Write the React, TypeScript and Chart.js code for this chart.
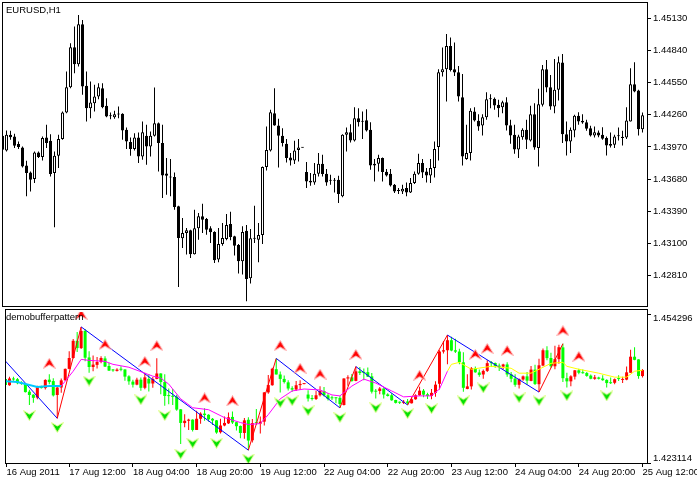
import React, { useEffect, useRef } from 'react';
import { Chart, registerables } from 'chart.js';

Chart.register(...registerables);

// ---------- data (EURUSD H1) ----------
const firstBar = -1; // index of first bar (partially visible)
const opens = [
  1.44071, 1.43939, 1.44080, 1.44065, 1.43996, 1.43966, 1.43804, 1.43741, 1.43681, 1.43921,
  1.43879, 1.44056, 1.44026, 1.43735, 1.43891, 1.44041, 1.44281, 1.44509, 1.44869, 1.44716,
  1.45076, 1.44521, 1.44320, 1.44365, 1.44425, 1.44500, 1.44341, 1.44251, 1.44239, 1.44266,
  1.44269, 1.44125, 1.44014, 1.43951, 1.44056, 1.43885, 1.44071, 1.43975, 1.44071, 1.44185,
  1.44005, 1.43732, 1.43699, 1.43699, 1.43435, 1.43147, 1.43195, 1.43219, 1.43003, 1.43237,
  1.43345, 1.43321, 1.43237, 1.43204, 1.42955, 1.43096, 1.43141, 1.43276, 1.43165, 1.43087,
  1.42940, 1.43216, 1.42787, 1.43147, 1.43135, 1.43177, 1.43789, 1.43939, 1.44275, 1.44164,
  1.44071, 1.43999, 1.43876, 1.43849, 1.43942, 1.43963, 1.43744, 1.43666, 1.43651, 1.43729,
  1.43819, 1.43729, 1.43672, 1.43669, 1.43675, 1.43525, 1.44080, 1.44104, 1.44029, 1.44230,
  1.44203, 1.44212, 1.44125, 1.43819, 1.43819, 1.43870, 1.43747, 1.43729, 1.43630, 1.43579,
  1.43570, 1.43600, 1.43561, 1.43645, 1.43729, 1.43825, 1.43750, 1.43714, 1.43780, 1.43969,
  1.44644, 1.44671, 1.44881, 1.44671, 1.44644, 1.44419, 1.43861, 1.43915, 1.44290, 1.44206,
  1.44164, 1.44239, 1.44407, 1.44404, 1.44350, 1.44329, 1.44374, 1.44167, 1.44080, 1.43948,
  1.44059, 1.44125, 1.44029, 1.44266, 1.43960, 1.44350, 1.44671, 1.44509, 1.44335, 1.44485,
  1.44731, 1.44086, 1.44020, 1.44119, 1.44251, 1.44206, 1.44194, 1.44140, 1.44074, 1.44101,
  1.44080, 1.44050, 1.43996, 1.43990, 1.44074, 1.44050, 1.44056, 1.44200, 1.44536, 1.44479,
  1.44131,
];
const highs = [
  1.44140, 1.44119, 1.44116, 1.44089, 1.44020, 1.43975, 1.43846, 1.43750, 1.43930, 1.43930,
  1.44065, 1.44170, 1.44086, 1.43930, 1.44080, 1.44290, 1.44650, 1.44905, 1.45055, 1.45160,
  1.45115, 1.44650, 1.44560, 1.44530, 1.44545, 1.44545, 1.44410, 1.44281, 1.44296, 1.44335,
  1.44275, 1.44146, 1.44056, 1.44095, 1.44101, 1.44200, 1.44170, 1.44110, 1.44506, 1.44191,
  1.44170, 1.43870, 1.43861, 1.43741, 1.43441, 1.43330, 1.43240, 1.43225, 1.43405, 1.43375,
  1.43459, 1.43330, 1.43255, 1.43210, 1.43240, 1.43285, 1.43366, 1.43387, 1.43171, 1.43096,
  1.43255, 1.43267, 1.43231, 1.43441, 1.43285, 1.43795, 1.44155, 1.44305, 1.44500, 1.44224,
  1.44140, 1.44041, 1.43915, 1.44026, 1.44041, 1.43966, 1.43834, 1.43735, 1.43825, 1.43915,
  1.43900, 1.43771, 1.43720, 1.43690, 1.43711, 1.44086, 1.44146, 1.44176, 1.44329, 1.44320,
  1.44290, 1.44311, 1.44194, 1.43861, 1.43900, 1.43876, 1.43771, 1.43771, 1.43636, 1.43600,
  1.43630, 1.43651, 1.43690, 1.43750, 1.43909, 1.43861, 1.43780, 1.43861, 1.44020, 1.44671,
  1.44866, 1.44989, 1.44956, 1.44911, 1.44701, 1.44629, 1.44170, 1.44320, 1.44329, 1.44266,
  1.44266, 1.44464, 1.44446, 1.44416, 1.44395, 1.44386, 1.44419, 1.44215, 1.44170, 1.44080,
  1.44140, 1.44215, 1.44341, 1.44365, 1.44494, 1.44710, 1.44755, 1.44620, 1.44764, 1.44785,
  1.44809, 1.44200, 1.44146, 1.44260, 1.44284, 1.44266, 1.44215, 1.44161, 1.44155, 1.44119,
  1.44149, 1.44065, 1.44101, 1.44080, 1.44146, 1.44116, 1.44329, 1.44680, 1.44734, 1.44485,
  1.44281,
];
const lows = [
  1.43939, 1.43930, 1.44035, 1.43960, 1.43951, 1.43786, 1.43525, 1.43570, 1.43645, 1.43870,
  1.43849, 1.43960, 1.43705, 1.43246, 1.43780, 1.44035, 1.44275, 1.44500, 1.44635, 1.44695,
  1.44440, 1.44200, 1.44230, 1.44290, 1.44401, 1.44320, 1.44239, 1.44221, 1.44224, 1.44230,
  1.44035, 1.43951, 1.43891, 1.43939, 1.43825, 1.43855, 1.43810, 1.43885, 1.44065, 1.43750,
  1.43510, 1.43540, 1.43525, 1.43405, 1.42709, 1.43060, 1.43000, 1.42970, 1.43000, 1.43135,
  1.43195, 1.43180, 1.43105, 1.42925, 1.42931, 1.43081, 1.43129, 1.43129, 1.42991, 1.42829,
  1.42820, 1.42580, 1.42739, 1.43105, 1.42931, 1.43096, 1.43759, 1.43930, 1.44161, 1.43786,
  1.43975, 1.43831, 1.43804, 1.43816, 1.43840, 1.43960, 1.43600, 1.43621, 1.43630, 1.43705,
  1.43705, 1.43621, 1.43630, 1.43561, 1.43465, 1.43516, 1.43930, 1.44011, 1.44020, 1.44155,
  1.44041, 1.44110, 1.43765, 1.43660, 1.43750, 1.43660, 1.43705, 1.43615, 1.43555, 1.43546,
  1.43546, 1.43525, 1.43555, 1.43636, 1.43720, 1.43690, 1.43651, 1.43645, 1.43696, 1.43849,
  1.44605, 1.44380, 1.44650, 1.44611, 1.44380, 1.43804, 1.43855, 1.43849, 1.44200, 1.44116,
  1.44074, 1.44215, 1.44320, 1.44305, 1.44239, 1.44275, 1.44119, 1.43999, 1.43909, 1.43870,
  1.44035, 1.43951, 1.44020, 1.43945, 1.43795, 1.44335, 1.44464, 1.44305, 1.44275, 1.44389,
  1.44005, 1.43894, 1.43915, 1.44059, 1.44170, 1.44179, 1.44116, 1.44065, 1.44056, 1.44059,
  1.44035, 1.43894, 1.43966, 1.43960, 1.44029, 1.43984, 1.44041, 1.44200, 1.44464, 1.44074,
  1.44101,
];
const closes = [
  1.43945, 1.44080, 1.44059, 1.43981, 1.43969, 1.43795, 1.43735, 1.43675, 1.43921, 1.43879,
  1.44050, 1.44005, 1.43726, 1.43891, 1.44041, 1.44281, 1.44509, 1.44869, 1.44716, 1.45076,
  1.44515, 1.44320, 1.44371, 1.44425, 1.44509, 1.44329, 1.44245, 1.44248, 1.44266, 1.44263,
  1.44119, 1.44020, 1.43951, 1.44056, 1.43885, 1.44104, 1.43975, 1.44071, 1.44185, 1.44005,
  1.43714, 1.43711, 1.43696, 1.43429, 1.43150, 1.43195, 1.43219, 1.43003, 1.43237, 1.43345,
  1.43315, 1.43225, 1.43201, 1.42949, 1.43096, 1.43150, 1.43267, 1.43159, 1.43081, 1.42940,
  1.43204, 1.42781, 1.43147, 1.43144, 1.43177, 1.43789, 1.43942, 1.44284, 1.44164, 1.44071,
  1.44005, 1.43870, 1.43849, 1.43939, 1.43966, 1.43963, 1.43660, 1.43651, 1.43729, 1.43819,
  1.43726, 1.43651, 1.43666, 1.43666, 1.43546, 1.44080, 1.44104, 1.44029, 1.44230, 1.44194,
  1.44197, 1.44119, 1.43804, 1.43804, 1.43870, 1.43744, 1.43714, 1.43624, 1.43570, 1.43573,
  1.43594, 1.43561, 1.43645, 1.43729, 1.43825, 1.43741, 1.43714, 1.43780, 1.43951, 1.44644,
  1.44671, 1.44881, 1.44665, 1.44641, 1.44425, 1.43885, 1.43915, 1.44296, 1.44209, 1.44155,
  1.44239, 1.44401, 1.44401, 1.44344, 1.44320, 1.44374, 1.44164, 1.44074, 1.43948, 1.44065,
  1.44125, 1.44035, 1.44266, 1.43966, 1.44356, 1.44671, 1.44506, 1.44335, 1.44485, 1.44734,
  1.44086, 1.44020, 1.44125, 1.44251, 1.44200, 1.44191, 1.44134, 1.44074, 1.44104, 1.44074,
  1.44044, 1.43984, 1.43981, 1.44065, 1.44068, 1.44062, 1.44209, 1.44536, 1.44470, 1.44131,
  1.44257,
];

const priceTicks = [1.4281, 1.431, 1.4339, 1.4368, 1.4397, 1.4426, 1.4455, 1.4484, 1.4513];
const mainRange = [1.425369, 1.452679];
const indicatorRange = [1.423114, 1.454296];

const timeTickBars = [-0.75, 15, 31, 47, 63, 79, 95, 111, 127, 143, 159];
const timeTickLabels = [
  '16 Aug 2011', '17 Aug 12:00', '18 Aug 04:00', '18 Aug 20:00', '19 Aug 12:00',
  '22 Aug 04:00', '22 Aug 20:00', '23 Aug 12:00', '24 Aug 04:00', '24 Aug 20:00', '25 Aug 12:00',
];

const zigzagBars = [-8, 12, 18, 60, 67, 83, 87, 100, 110, 133, 139];
const zigzagPrices = [1.45087, 1.43246, 1.4516, 1.4258, 1.445, 1.43465, 1.44329, 1.43525, 1.44989, 1.43795, 1.44809];

const maCyanBars = [-1, 2, 7, 10, 13];
const maCyanValues = [1.44025, 1.44005, 1.43902, 1.43922, 1.43922];
const maMagentaBars = [13, 14, 16, 18, 20, 24, 26, 30, 36, 38, 40, 43, 46, 50, 54, 58, 60, 63, 65, 68, 71, 74, 78, 81, 83, 86, 89, 92, 96, 99, 103, 106, 108, 110];
const maMagentaValues = [1.43922, 1.44025, 1.44232, 1.4448, 1.44459, 1.44438, 1.44376, 1.44315, 1.44129, 1.44087, 1.43963, 1.43654, 1.43468, 1.43427, 1.43261, 1.43158, 1.43117, 1.43137, 1.43323, 1.43654, 1.43819, 1.4386, 1.4384, 1.43736, 1.43716, 1.43922, 1.44067, 1.43984, 1.43819, 1.43695, 1.43716, 1.43716, 1.4386, 1.44232];
const maYellowBars = [110, 111, 113, 116, 121, 126, 128, 131, 133, 136, 139, 140, 143, 148, 152, 155, 157, 159];
const maYellowValues = [1.44232, 1.44376, 1.44418, 1.44273, 1.44335, 1.44294, 1.44191, 1.44191, 1.44273, 1.44397, 1.44418, 1.44335, 1.44273, 1.44191, 1.44108, 1.44108, 1.44232, 1.44253];

const upArrowBars = [18, 10, 24, 34, 37, 49, 56, 68, 73, 78, 87, 103, 117, 120, 125, 139, 143];
const upArrowPrices = [1.4542, 1.44397, 1.44789, 1.44438, 1.44769, 1.43674, 1.43612, 1.44769, 1.44294, 1.4417, 1.44583, 1.44149, 1.44583, 1.44707, 1.44666, 1.45079, 1.44542];
const downArrowBars = [5, 12, 20, 33, 39, 43, 46, 52, 60, 68, 71, 75, 83, 92, 100, 106, 114, 119, 128, 133, 140, 150];
const downArrowPrices = [1.43303, 1.43055, 1.44025, 1.43633, 1.43303, 1.42497, 1.42725, 1.42725, 1.42394, 1.43571, 1.43612, 1.43406, 1.43261, 1.43468, 1.43344, 1.43447, 1.43612, 1.43881, 1.43674, 1.43612, 1.43716, 1.43716];

// ---------- helpers ----------
const FONT = { family: '"Liberation Sans", Arial, sans-serif', size: 9.5 };
const X_MIN = -0.875;
const X_MAX = 160.125;

const barX = opens.map((_, k) => firstBar + k);
const isBull = (k: number) => closes[k] >= opens[k];

function makeArrow(up: boolean): HTMLCanvasElement {
  const c = document.createElement('canvas');
  c.width = 13;
  c.height = 11;
  const g = c.getContext('2d')!;
  g.beginPath();
  if (up) {
    g.moveTo(6.5, 0.5); g.lineTo(12.5, 10.5); g.lineTo(6.5, 7); g.lineTo(0.5, 10.5);
  } else {
    g.moveTo(6.5, 10.5); g.lineTo(12.5, 0.5); g.lineTo(6.5, 4); g.lineTo(0.5, 0.5);
  }
  g.closePath();
  g.fillStyle = up ? '#ff0000' : '#00e000';
  g.fill();
  g.lineWidth = 1;
  g.strokeStyle = up ? '#ffb0b0' : '#e8ff90';
  g.stroke();
  return c;
}

function framePlugin(title: string, top: number, bottom: number) {
  return {
    id: 'frame_' + title,
    afterDraw(chart: any) {
      const { ctx, chartArea: a } = chart;
      ctx.save();
      ctx.strokeStyle = '#000';
      ctx.lineWidth = 1;
      ctx.strokeRect(a.left - 0.5, top + 0.5, a.right - a.left + 1, bottom - top);
      ctx.fillStyle = '#000';
      ctx.font = `${FONT.size}px ${FONT.family}`;
      ctx.textBaseline = 'middle';
      ctx.textAlign = 'left';
      ctx.fillText(title, 6, top + 8);
      ctx.restore();
    },
  };
}

export default function App() {
  const mainRef = useRef<HTMLCanvasElement>(null);
  const indRef = useRef<HTMLCanvasElement>(null);

  useEffect(() => {
    const bodyData = barX.map((x, k) => ({ x, y: [opens[k], closes[k]] }));
    const wickData = barX.map((x, k) => ({ x, y: [lows[k], highs[k]] }));

    const main = new Chart(mainRef.current!, {
      type: 'bar',
      data: {
        datasets: [
          {
            type: 'bar',
            data: bodyData as any,
            backgroundColor: (c: any) => (isBull(c.dataIndex) ? '#ffffff' : '#000000'),
            borderColor: '#000',
            borderWidth: 1,
            borderSkipped: false,
            barThickness: 3,
            maxBarThickness: 3,
            grouped: false,
            inflateAmount: 0,
            minBarLength: 1,
            order: 1,
          } as any,
          {
            type: 'bar',
            data: wickData as any,
            backgroundColor: '#000',
            borderWidth: 0,
            barThickness: 1,
            maxBarThickness: 1,
            grouped: false,
            inflateAmount: 0,
            order: 2,
          } as any,
        ],
      },
      options: {
        animation: false,
        responsive: false,
        events: [],
        layout: { padding: { left: 3, top: 3, right: 0, bottom: 2 } },
        plugins: { legend: { display: false }, tooltip: { enabled: false } },
        scales: {
          x: { type: 'linear', min: X_MIN, max: X_MAX, offset: false, grid: { offset: false }, display: false },
          y: {
            type: 'linear',
            position: 'right',
            min: mainRange[0],
            max: mainRange[1],
            afterBuildTicks: (s: any) => { s.ticks = priceTicks.map((v) => ({ value: v })); },
            afterFit: (s: any) => { s.width = 50; s.paddingTop = 0; s.paddingBottom = 0; },
            ticks: { callback: (v: any) => Number(v).toFixed(5), font: FONT, color: '#000', padding: 2, autoSkip: false },
            grid: { drawOnChartArea: false, drawTicks: true, tickLength: 4, color: '#000' },
            border: { display: false },
          },
        },
      } as any,
      plugins: [framePlugin('EURUSD,H1', 2, 306)],
    });

    const upArrow = makeArrow(true);
    const downArrow = makeArrow(false);
    const clipTop = { left: 0, top: 2, right: 0, bottom: 0 };

    const ind = new Chart(indRef.current!, {
      type: 'bar',
      data: {
        datasets: [
          {
            type: 'scatter',
            data: upArrowBars.map((x, k) => ({ x, y: upArrowPrices[k] })),
            pointStyle: upArrow,
            pointRadius: 5,
            showLine: false,
            clip: clipTop,
            order: 1,
          } as any,
          {
            type: 'scatter',
            data: downArrowBars.map((x, k) => ({ x, y: downArrowPrices[k] })),
            pointStyle: downArrow,
            pointRadius: 5,
            showLine: false,
            clip: clipTop,
            order: 1,
          } as any,
          {
            type: 'line',
            data: maCyanBars.map((x, k) => ({ x, y: maCyanValues[k] })),
            borderColor: '#00c8ff',
            borderWidth: 2,
            pointRadius: 0,
            tension: 0,
            order: 3,
          } as any,
          {
            type: 'line',
            data: maMagentaBars.map((x, k) => ({ x, y: maMagentaValues[k] })),
            borderColor: '#ff00ff',
            borderWidth: 1,
            pointRadius: 0,
            tension: 0,
            order: 3,
          } as any,
          {
            type: 'line',
            data: maYellowBars.map((x, k) => ({ x, y: maYellowValues[k] })),
            borderColor: '#ffff00',
            borderWidth: 1,
            pointRadius: 0,
            tension: 0,
            order: 3,
          } as any,
          {
            type: 'line',
            data: zigzagBars.map((x, k) => ({ x, y: zigzagPrices[k] })),
            borderWidth: 1,
            borderColor: '#0000ff',
            segment: {
              borderColor: (c: any) => (c.p1.parsed.y < c.p0.parsed.y ? '#0000ff' : '#ff0000'),
            },
            pointRadius: 0,
            tension: 0,
            order: 4,
          } as any,
          {
            type: 'bar',
            data: bodyData as any,
            backgroundColor: (c: any) => (isBull(c.dataIndex) ? '#ff0000' : '#00ff00'),
            borderWidth: 0,
            barThickness: 3,
            maxBarThickness: 3,
            grouped: false,
            inflateAmount: 0,
            minBarLength: 1,
            order: 5,
          } as any,
          {
            type: 'bar',
            data: wickData as any,
            backgroundColor: (c: any) => (isBull(c.dataIndex) ? '#ff0000' : '#00ff00'),
            borderWidth: 0,
            barThickness: 1,
            maxBarThickness: 1,
            grouped: false,
            inflateAmount: 0,
            order: 6,
          } as any,
        ],
      },
      options: {
        animation: false,
        responsive: false,
        events: [],
        layout: { padding: { left: 3, top: 4, right: 0, bottom: 0 } },
        plugins: { legend: { display: false }, tooltip: { enabled: false } },
        scales: {
          x: {
            type: 'linear',
            position: 'bottom',
            min: X_MIN,
            max: X_MAX,
            offset: false,
            afterBuildTicks: (s: any) => { s.ticks = timeTickBars.map((v) => ({ value: v })); },
            afterFit: (s: any) => { s.height = 21; s.paddingLeft = 0; s.paddingRight = 0; },
            ticks: {
              callback: (_v: any, i: number) => timeTickLabels[i],
              align: 'start',
              padding: 0,
              maxRotation: 0,
              minRotation: 0,
              autoSkip: false,
              font: FONT,
              color: '#000',
            },
            grid: { offset: false, drawOnChartArea: false, drawTicks: true, tickLength: 4, color: '#000' },
            border: { display: false },
          },
          y: {
            type: 'linear',
            position: 'right',
            min: indicatorRange[0],
            max: indicatorRange[1],
            afterBuildTicks: (s: any) => { s.ticks = indicatorRange.map((v) => ({ value: v })); },
            afterFit: (s: any) => { s.width = 50; s.paddingTop = 0; s.paddingBottom = 0; },
            ticks: {
              callback: (v: any) => {
                const t = Number(v).toFixed(6);
                return Number(v) >= indicatorRange[1] ? ['', t] : [t, ''];
              },
              font: { ...FONT, lineHeight: 1.0 },
              color: '#000',
              padding: 2,
              autoSkip: false,
            },
            grid: { drawOnChartArea: false, drawTicks: true, tickLength: 4, color: '#000' },
            border: { display: false },
          },
        },
      } as any,
      plugins: [framePlugin('demobufferpattern', 1, 155)],
    });

    return () => {
      main.destroy();
      ind.destroy();
    };
  }, []);

  return (
    <div style={{ position: 'fixed', left: 0, top: 0, width: 697, height: 484, background: '#fff' }}>
      <canvas ref={mainRef} width={697} height={308} style={{ position: 'absolute', left: 0, top: 0, width: 697, height: 308 }} />
      <canvas ref={indRef} width={697} height={176} style={{ position: 'absolute', left: 0, top: 308, width: 697, height: 176 }} />
    </div>
  );
}
